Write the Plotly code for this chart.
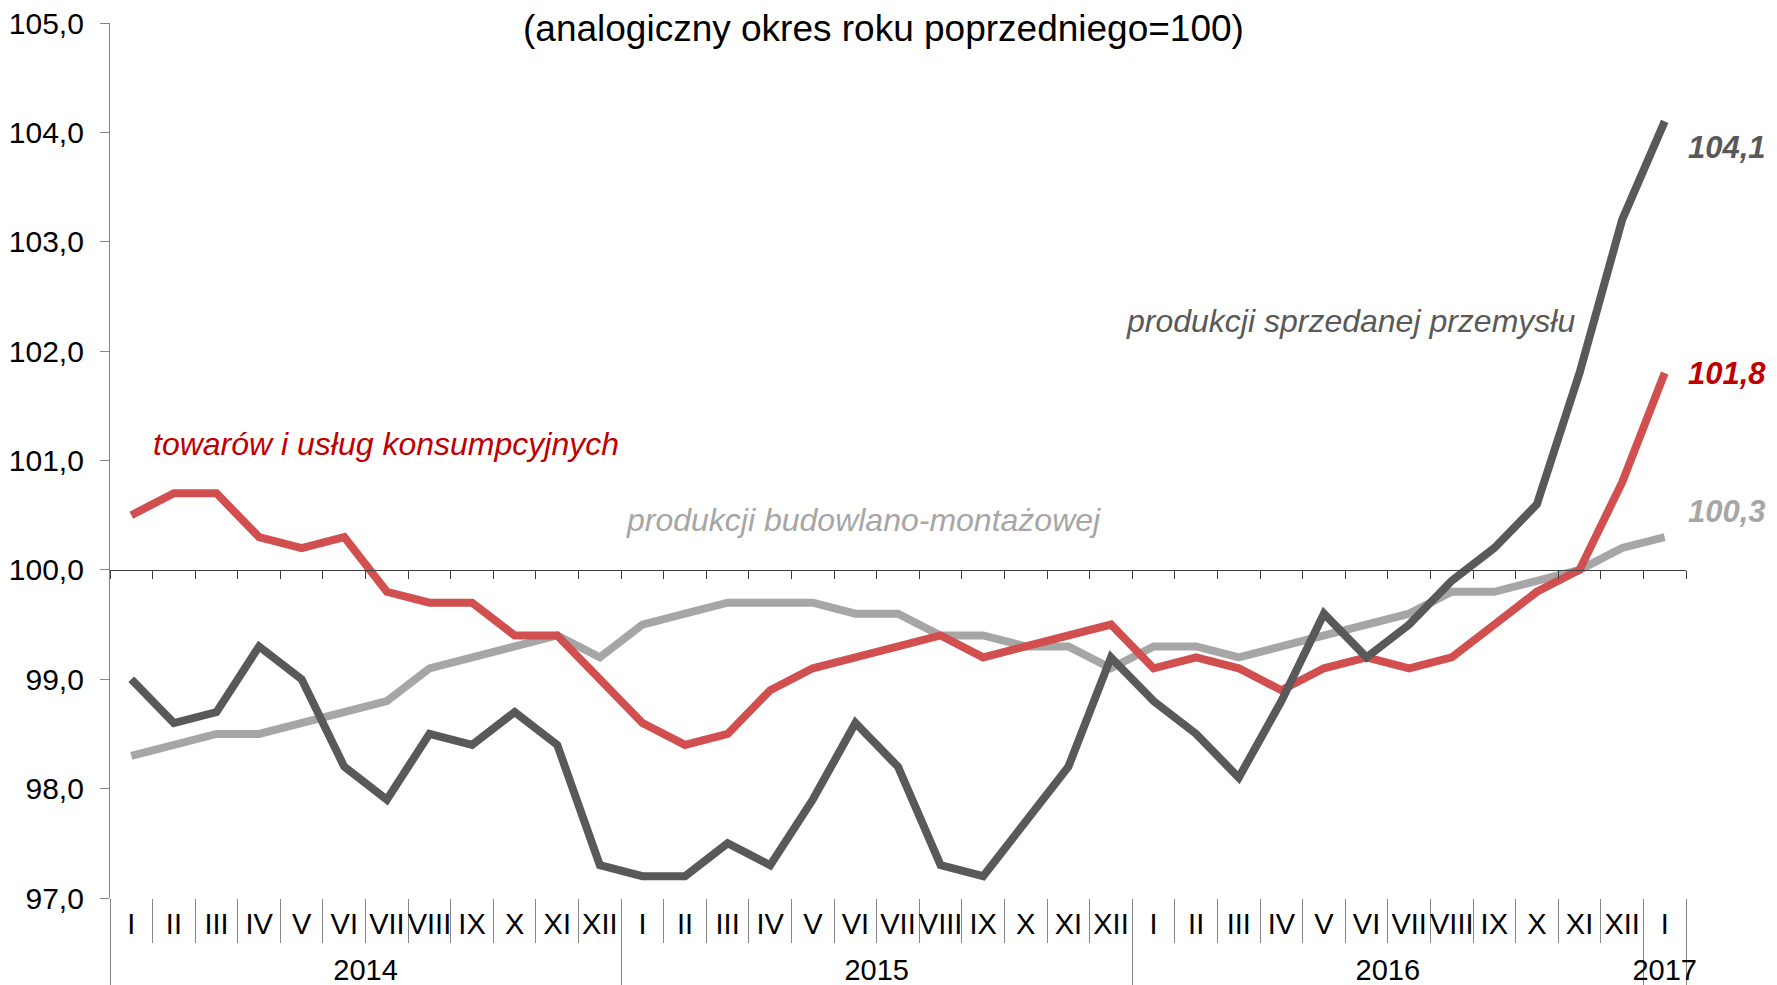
import plotly.graph_objects as go

# ---- data ----
months = ["I", "II", "III", "IV", "V", "VI", "VII", "VIII", "IX", "X", "XI", "XII"]
years = ["2014", "2015", "2016", "2017"]
year_labels = ["2014"] * 12 + ["2015"] * 12 + ["2016"] * 12 + ["2017"]
month_labels = months * 3 + ["I"]

consumer = [100.5, 100.7, 100.7, 100.3, 100.2, 100.3, 99.8, 99.7, 99.7, 99.4, 99.4, 99.0,
            98.6, 98.4, 98.5, 98.9, 99.1, 99.2, 99.3, 99.4, 99.2, 99.3, 99.4, 99.5,
            99.1, 99.2, 99.1, 98.9, 99.1, 99.2, 99.1, 99.2, 99.5, 99.8, 100.0, 100.8,
            101.8]
industry = [99.0, 98.6, 98.7, 99.3, 99.0, 98.2, 97.9, 98.5, 98.4, 98.7, 98.4, 97.3,
            97.2, 97.2, 97.5, 97.3, 97.9, 98.6, 98.2, 97.3, 97.2, 97.7, 98.2, 99.2,
            98.8, 98.5, 98.1, 98.8, 99.6, 99.2, 99.5, 99.9, 100.2, 100.6, 101.8, 103.2,
            104.1]
construction = [98.3, 98.4, 98.5, 98.5, 98.6, 98.7, 98.8, 99.1, 99.2, 99.3, 99.4, 99.2,
                99.5, 99.6, 99.7, 99.7, 99.7, 99.6, 99.6, 99.4, 99.4, 99.3, 99.3, 99.1,
                99.3, 99.3, 99.2, 99.3, 99.4, 99.5, 99.6, 99.8, 99.8, 99.9, 100.0, 100.2,
                100.3]

series_names = ["towarów i usług konsumpcyjnych", "produkcji sprzedanej przemysłu",
                "produkcji budowlano-montażowej"]
title_text = "(analogiczny okres roku poprzedniego=100)"
y_range = [97, 105]

# ---- styles ----
FONT = "Liberation Sans, Arial, sans-serif"
RED_LINE = "#D24F50"
RED_TEXT = "#C00000"
DARK = "#595959"
LIGHT = "#A6A6A6"
AXIS_GRAY = "#868686"

fig = go.Figure()
x_mc = [year_labels, month_labels]
for vals, col in [(construction, LIGHT), (consumer, RED_LINE), (industry, DARK)]:
    fig.add_trace(go.Scatter(x=x_mc, y=vals, mode="lines",
                             line=dict(color=col, width=8), hoverinfo="skip",
                             showlegend=False))

n = len(month_labels)
for ax in ["x2", "x3", "x4"]:
    fig.add_trace(go.Scatter(x=[], y=[], xaxis=ax, yaxis="y", showlegend=False,
                             hoverinfo="skip"))

# category geometry derived from the label arrays
centers = list(range(n))
boundaries = [i - 0.5 for i in range(n + 1)]
year_groups = []
for i, yl in enumerate(year_labels):
    if not year_groups or year_groups[-1][0] != yl:
        year_groups.append([yl, i, i])
    else:
        year_groups[-1][2] = i
year_centers = [(a + b) / 2 for _, a, b in year_groups]
year_bounds = [a - 0.5 for _, a, b in year_groups] + [year_groups[-1][2] + 0.5]

pos100 = (100 - y_range[0]) / (y_range[1] - y_range[0])
xr = [-0.5, n - 0.5]

fig.update_layout(
    width=1777, height=985,
    margin=dict(l=110, r=91, t=23, b=87, autoexpand=False),
    paper_bgcolor="white", plot_bgcolor="white",
    separators=", ",
    font=dict(family=FONT, size=29, color="black"),
    xaxis=dict(type="multicategory", range=xr, visible=False),
    # axis line at 100 with boundary ticks
    xaxis2=dict(overlaying="x", anchor="free", position=pos100,
                range=xr, showgrid=False, zeroline=False,
                showline=True, linecolor="#3F3F3F", linewidth=1.3,
                ticks="outside", ticklen=8, tickcolor="#3F3F3F", tickwidth=1.3,
                tickmode="array", tickvals=boundaries, showticklabels=False),
    # month labels + month separators
    xaxis3=dict(overlaying="x", anchor="y", side="bottom", range=xr,
                showgrid=False, zeroline=False, showline=False,
                tickmode="array", tickvals=centers, ticktext=month_labels,
                ticks="", ticklabelstandoff=6, tickangle=0, automargin=False,
                tickfont=dict(size=29, color="black", family=FONT),
                minor=dict(tickmode="array", tickvals=boundaries, ticks="outside",
                           ticklen=44, tickcolor=AXIS_GRAY, tickwidth=1, showgrid=False)),
    # year labels + year dividers
    xaxis4=dict(overlaying="x", anchor="y", side="bottom", range=xr,
                showgrid=False, zeroline=False, showline=False,
                tickmode="array", tickvals=year_centers,
                ticktext=[g[0] for g in year_groups],
                ticks="", ticklabelstandoff=52, tickangle=0, automargin=False,
                tickfont=dict(size=29, color="black", family=FONT),
                minor=dict(tickmode="array", tickvals=year_bounds, ticks="outside",
                           ticklen=87, tickcolor=AXIS_GRAY, tickwidth=1.3, showgrid=False)),
    yaxis=dict(range=y_range, dtick=1, tickformat=".1f", showgrid=False,
               zeroline=False, showline=True, linecolor=AXIS_GRAY, linewidth=1.3,
               ticks="outside", ticklen=9, tickcolor=AXIS_GRAY,
               ticklabelstandoff=10, automargin=False,
               tickfont=dict(size=30, color="black", family=FONT)),
)

# title
fig.add_annotation(text=title_text, xref="paper", yref="paper", x=0.491, y=0.994,
                   showarrow=False, font=dict(size=37, color="black", family=FONT),
                   xanchor="center", yanchor="middle")

# series name labels
for name, col, xp, yv in [(series_names[0], RED_TEXT, 0.175, 101.15),
                          (series_names[2], LIGHT, 0.478, 100.46),
                          (series_names[1], DARK, 0.787, 102.28)]:
    fig.add_annotation(text="<i>" + name + "</i>", xref="paper", yref="y",
                       x=xp, y=yv, xanchor="center", yanchor="middle",
                       showarrow=False, font=dict(size=32, color=col, family=FONT))

# end value labels
def fmt(v):
    return f"{v:.1f}".replace(".", ",")

for vals, col, dy in [(industry, DARK, -0.24), (consumer, RED_TEXT, 0.0),
                      (construction, LIGHT, 0.23)]:
    fig.add_annotation(text="<b><i>" + fmt(vals[-1]) + "</i></b>", xref="paper", yref="y",
                       x=1.0, y=vals[-1] + dy, xanchor="left", yanchor="middle",
                       showarrow=False, font=dict(size=31, color=col, family=FONT))

fig.write_html("out.html", config={"displayModeBar": False},
               post_script="document.body.style.margin='0';")
